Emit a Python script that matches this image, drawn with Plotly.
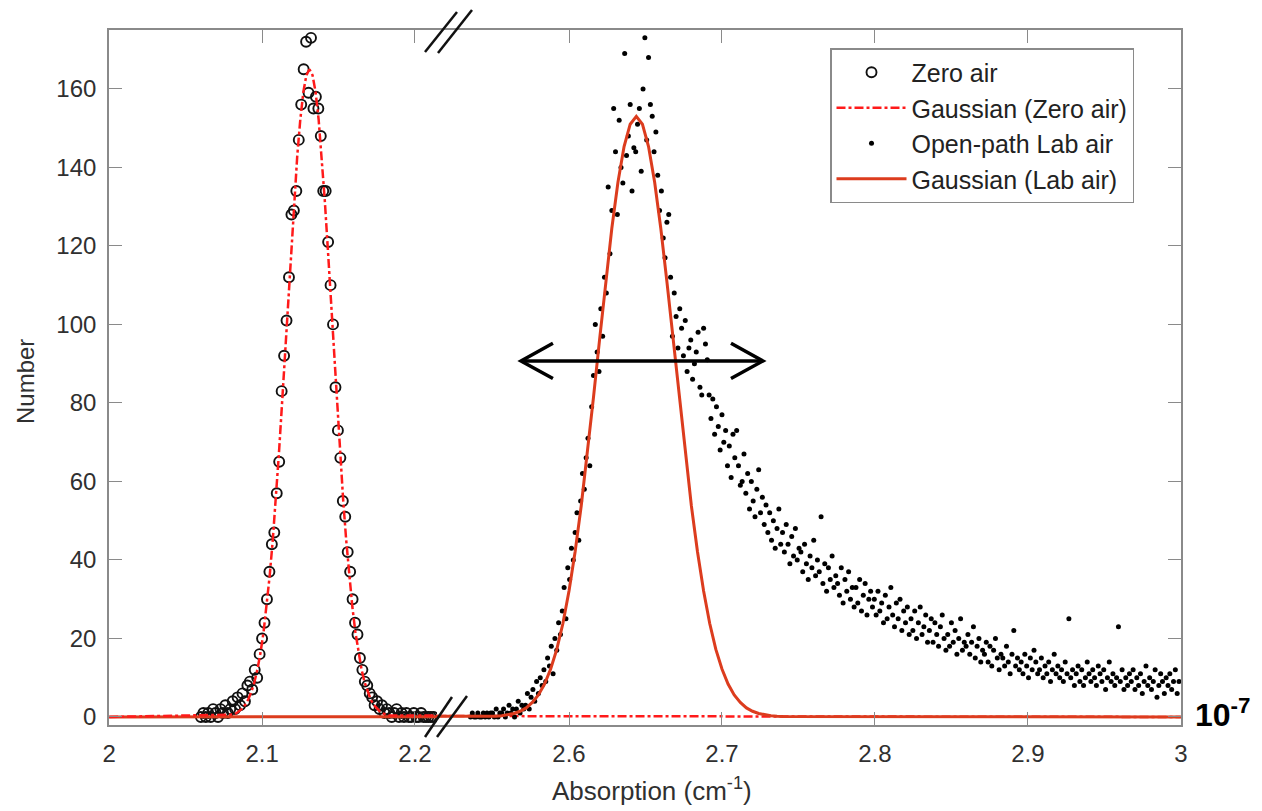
import plotly.graph_objects as go

# ---------------- data ----------------
# Zero air histogram (bin start, bin width, counts)
zero_x0 = 2.060
zero_dx = 0.0016
zero_counts = [0, 1, 0, 1, 0, 2, 1, 0, 2, 1,
               3, 1, 2, 4, 2, 5, 3, 6, 4, 8,
               9, 7, 12, 10, 16, 20, 24, 30, 37, 44,
               47, 57, 65, 83, 92, 101, 112, 128, 129, 134,
               147, 156, 165, 172, 159, 173, 155, 158, 155, 148,
               134, 134, 121, 110, 100, 84, 73, 66, 55, 51,
               42, 37, 30, 24, 21, 15, 12, 9, 8, 6,
               5, 3, 4, 2, 3, 1, 2, 1, 0, 1,
               2, 0, 1, 0, 1, 0, 0, 1, 0, 0,
               1, 0, 0, 0, 0, 0]

# Open-path lab air histogram
lab_x0 = 2.5356
lab_dx = 0.0012
lab_counts = [0, 1, 0, 0, 1, 0, 0, 1, 0, 1,
              0, 1, 1, 0, 2, 0, 1, 1, 2, 0,
              1, 3, 1, 2, 0, 2, 4, 1, 3, 2,
              3, 6, 2, 5, 7, 4, 9, 6, 10, 8,
              12, 9, 15, 13, 18, 11, 20, 17, 24, 21,
              27, 33, 25, 38, 35, 43, 40, 47, 52, 45,
              55, 62, 58, 66, 71, 64, 79, 87, 100, 93,
              88, 104, 97, 112, 108, 135, 118, 129, 155, 144,
              128, 152, 140, 136, 169, 143, 148, 156, 134, 145,
              144, 151, 155, 139, 160, 173, 147, 168, 156, 153,
              144, 149, 138, 129, 134, 122, 117, 126, 128, 112,
              97, 108, 102, 94, 104, 99, 92, 101, 88, 94,
              96, 86, 90, 93, 98, 84, 82, 99, 95, 91,
              82, 76, 81, 72, 79, 74, 68, 77, 70, 73,
              64, 69, 61, 72, 66, 73, 64, 59, 60, 67,
              57, 62, 53, 60, 55, 51, 58, 63, 52, 56,
              49, 54, 47, 52, 45, 50, 43, 48, 53, 44,
              47, 42, 49, 44, 39, 46, 41, 48, 40, 43,
              42, 37, 44, 39, 35, 41, 38, 45, 36, 40,
              37, 51, 34, 39, 32, 38, 35, 41, 33, 36,
              34, 31, 38, 29, 35, 32, 37, 30, 33, 28,
              33, 29, 35, 27, 31, 34, 26, 30, 32, 28,
              30, 26, 32, 27, 29, 24, 31, 25, 28, 33,
              26, 23, 29, 25, 30, 22, 27, 24, 28, 21,
              25, 22, 27, 20, 24, 28, 21, 23, 26, 19,
              22, 25, 19, 24, 21, 18, 23, 26, 20, 17,
              21, 18, 24, 19, 22, 16, 20, 25, 17, 19,
              18, 21, 16, 19, 23, 15, 18, 20, 14, 17,
              16, 19, 14, 18, 13, 17, 20, 15, 12, 16,
              15, 13, 18, 14, 11, 16, 22, 13, 15, 12,
              14, 11, 16, 13, 10, 15, 12, 17, 14, 11,
              12, 15, 10, 13, 11, 14, 9, 12, 16, 11,
              13, 10, 12, 9, 14, 11, 25, 10, 12, 8,
              11, 13, 9, 12, 8, 10, 14, 11, 9, 12,
              10, 8, 13, 11, 9, 12, 7, 10, 14, 9,
              11, 8, 10, 23, 9, 12, 7, 10, 8, 11,
              9, 12, 7, 10, 8, 11, 6, 9, 13, 8,
              10, 7, 9, 12, 5, 8, 11, 9, 6, 10,
              8, 11, 7, 9, 12, 6, 9]

# Gaussian fit (Zero air), sampled curve
zero_fit_x = [2.000,
              2.079, 2.081, 2.083, 2.085, 2.087, 2.089, 2.091, 2.093, 2.095, 2.097,
              2.099, 2.101, 2.103, 2.105, 2.107, 2.109, 2.111, 2.113, 2.115, 2.117,
              2.119, 2.121, 2.123, 2.125, 2.127, 2.129, 2.131, 2.133, 2.135, 2.137,
              2.139, 2.141, 2.143, 2.145, 2.147, 2.149, 2.151, 2.153, 2.155, 2.157,
              2.159, 2.161, 2.163, 2.165, 2.167, 2.169, 2.171, 2.173, 2.175, 2.177,
              2.179, 2.181, 2.183,
              3.000]
zero_fit_y = [0.0,
              0.4, 0.6, 0.9, 1.4, 2.1, 3.1, 4.5, 6.4, 8.9, 12.2,
              16.4, 21.7, 28.2, 36.0, 45.1, 55.5, 67.0, 79.5, 92.7, 106.1,
              119.3, 131.7, 142.9, 152.2, 159.2, 163.5, 165.0, 163.5, 159.2, 152.2,
              142.9, 131.7, 119.3, 106.1, 92.7, 79.5, 67.0, 55.5, 45.1, 36.0,
              28.2, 21.7, 16.4, 12.2, 8.9, 6.4, 4.5, 3.1, 2.1, 1.4,
              0.9, 0.6, 0.4,
              0.0]

# Gaussian fit (Lab air), sampled curve
lab_fit_x = [2.000,
             2.548, 2.552, 2.556, 2.560, 2.564, 2.568, 2.572, 2.576, 2.580, 2.584,
             2.588, 2.592, 2.596, 2.600, 2.604, 2.608, 2.612, 2.616, 2.620, 2.624,
             2.628, 2.632, 2.636, 2.640, 2.644, 2.648, 2.652, 2.656, 2.660, 2.664,
             2.668, 2.672, 2.676, 2.680, 2.684, 2.688, 2.692, 2.696, 2.700, 2.704,
             2.708, 2.712, 2.716, 2.720, 2.724, 2.728, 2.732, 2.736, 2.740,
             3.000]
lab_fit_y = [0.0,
             0.09, 0.17, 0.30, 0.52, 0.88, 1.45, 2.3, 3.7, 5.6, 8.4,
             12.2, 17.2, 23.8, 32.1, 42.1, 53.8, 67.0, 81.4, 96.2, 110.9,
             124.5, 136.2, 145.3, 151.0, 153.0, 151.0, 145.3, 136.2, 124.5, 110.9,
             96.2, 81.4, 67.0, 53.8, 42.1, 32.1, 23.8, 17.2, 12.2, 8.4,
             5.6, 3.7, 2.3, 1.45, 0.88, 0.52, 0.30, 0.17, 0.09,
             0.0]

x_tick_left = [2.0, 2.1, 2.2]
x_tick_left_text = ["2", "2.1", "2.2"]
x_tick_right = [2.6, 2.7, 2.8, 2.9, 3.0]
x_tick_right_text = ["2.6", "2.7", "2.8", "2.9", "3"]
y_ticks = [0, 20, 40, 60, 80, 100, 120, 140, 160]

# broken-axis ranges
left_range = [1.9999, 2.2144]
right_range = [2.5137, 3.0001]
y_range = [-2.05, 175]

# double arrow (width marker) in data units of right panel
arrow_y = 90.7
arrow_x_left, arrow_x_right = 2.5686, 2.7268
arrow_arm_dx, arrow_arm_dy = 0.0209, 4.5

zero_x = [round(zero_x0 + zero_dx * i, 4) for i in range(len(zero_counts))]
lab_x = [round(lab_x0 + lab_dx * i, 4) for i in range(len(lab_counts))]

RED = "#ff1a1a"
ORANGE = "#dc3c1e"
FONT = "Liberation Sans, Arial, sans-serif"
TXT = "#303030"

fig = go.Figure()

# left panel
fig.add_trace(go.Scatter(x=zero_x, y=zero_counts, mode="markers", name="Zero air",
                         xaxis="x", yaxis="y", legendgroup="g1",
                         marker=dict(symbol="circle-open", size=10, color="#111111",
                                     line=dict(width=1.9, color="#111111"))))
fig.add_trace(go.Scatter(x=lab_fit_x, y=lab_fit_y, mode="lines", name="Gaussian (Lab air)",
                         xaxis="x", yaxis="y", showlegend=False, legendgroup="g4",
                         line=dict(color=ORANGE, width=3)))
fig.add_trace(go.Scatter(x=zero_fit_x, y=zero_fit_y, mode="lines", name="Gaussian (Zero air)",
                         xaxis="x", yaxis="y", legendgroup="g2",
                         line=dict(color=RED, width=2.5, dash="dashdot")))

# right panel
fig.add_trace(go.Scatter(x=zero_fit_x, y=zero_fit_y, mode="lines", name="Gaussian (Zero air)",
                         xaxis="x2", yaxis="y2", showlegend=False, legendgroup="g2",
                         line=dict(color=RED, width=2.5, dash="dashdot")))
fig.add_trace(go.Scatter(x=lab_x, y=lab_counts, mode="markers", name="Open-path Lab air",
                         xaxis="x2", yaxis="y2", legendgroup="g3",
                         marker=dict(symbol="circle", size=5, color="#000000")))
fig.add_trace(go.Scatter(x=lab_fit_x, y=lab_fit_y, mode="lines", name="Gaussian (Lab air)",
                         xaxis="x2", yaxis="y2", legendgroup="g4",
                         line=dict(color=ORANGE, width=3)))

# The page shows the figure with an 8 px body margin; work in reference pixels
OFF = 8
W, H = 1262 - OFF, 811 - OFF
PL, PR, PT, PB = 109, 1181, 30, 725          # plot box in reference pixels
L, T = PL - OFF, PT - OFF
R, B = W - (PR - OFF), H - (PB - OFF)
pw = PR - PL
ph = PB - PT
split = (437 - PL) / pw


def px(xp, yp):
    """reference pixel -> paper coordinates"""
    return (xp - PL) / pw, (PB - yp) / ph


axis_common = dict(showline=True, linecolor="#8a8a8a", linewidth=1.6,
                   ticks="inside", ticklen=13, tickwidth=1.4, tickcolor="#8a8a8a",
                   showgrid=False, zeroline=False,
                   tickfont=dict(family=FONT, size=24, color=TXT))

fig.update_layout(
    width=W, height=H,
    margin=dict(l=L, r=R, t=T, b=B),
    paper_bgcolor="white", plot_bgcolor="white",
    showlegend=True,
    xaxis=dict(domain=[0, split], range=left_range, anchor="y",
               tickvals=x_tick_left, ticktext=x_tick_left_text, mirror="ticks",
               ticklabelstandoff=6, **axis_common),
    xaxis2=dict(domain=[split, 1], range=right_range, anchor="y2",
                tickvals=x_tick_right, ticktext=x_tick_right_text, mirror="ticks",
                ticklabelstandoff=6, **axis_common),
    yaxis=dict(range=y_range, anchor="x", tickvals=y_ticks, ticklabelstandoff=6,
               **axis_common),
    yaxis2=dict(range=y_range, anchor="x2", side="right", matches="y",
                tickvals=y_ticks, showticklabels=False, **axis_common),
    legend=dict(x=px(830, 0)[0], y=px(0, 48)[1], xanchor="left", yanchor="top",
                bgcolor="white", bordercolor="#8a8a8a", borderwidth=1.5,
                font=dict(family=FONT, size=25, color="#222222"),
                traceorder="grouped", itemwidth=70, tracegroupgap=0),
)

# axis titles as annotations
fig.add_annotation(text="Absorption (cm<sup>-1</sup>)", xref="paper", yref="paper",
                   x=px(652, 0)[0], y=px(0, 789)[1], xanchor="center", yanchor="middle",
                   showarrow=False, font=dict(family=FONT, size=26, color=TXT))
fig.add_annotation(text="Number", xref="paper", yref="paper", textangle=-90,
                   x=px(25, 0)[0], y=px(0, 382)[1], xanchor="center", yanchor="middle",
                   showarrow=False, font=dict(family=FONT, size=24, color=TXT))

# 10^-7 multiplier
fig.add_annotation(text="<b>10<sup>-7</sup></b>", xref="paper", yref="paper",
                   x=px(1193, 0)[0], y=px(0, 713)[1], xanchor="left", yanchor="middle",
                   showarrow=False, font=dict(family=FONT, size=32, color="#000000"))

# double arrow
shapes = []
arrow_line = dict(color="#000000", width=3.5)
shapes.append(dict(type="line", xref="x2", yref="y2", x0=arrow_x_left, x1=arrow_x_right,
                   y0=arrow_y, y1=arrow_y, line=arrow_line))
shapes.append(dict(type="path", xref="x2", yref="y2",
                   path=f"M {arrow_x_left + arrow_arm_dx} {arrow_y + arrow_arm_dy} "
                        f"L {arrow_x_left} {arrow_y} L {arrow_x_left + arrow_arm_dx} {arrow_y - arrow_arm_dy}",
                   line=arrow_line))
shapes.append(dict(type="path", xref="x2", yref="y2",
                   path=f"M {arrow_x_right - arrow_arm_dx} {arrow_y + arrow_arm_dy} "
                        f"L {arrow_x_right} {arrow_y} L {arrow_x_right - arrow_arm_dx} {arrow_y - arrow_arm_dy}",
                   line=arrow_line))

# axis-break marks
for (a, b) in [((425, 52), (457, 12)), ((438, 53), (472, 10)),
               ((425, 737), (452, 697)), ((437, 737), (467, 696))]:
    x0, y0 = px(*a)
    x1, y1 = px(*b)
    shapes.append(dict(type="line", xref="paper", yref="paper", x0=x0, y0=y0, x1=x1, y1=y1,
                       line=dict(color="#111111", width=2.5)))

fig.update_layout(shapes=shapes)

fig.write_html("out.html")
